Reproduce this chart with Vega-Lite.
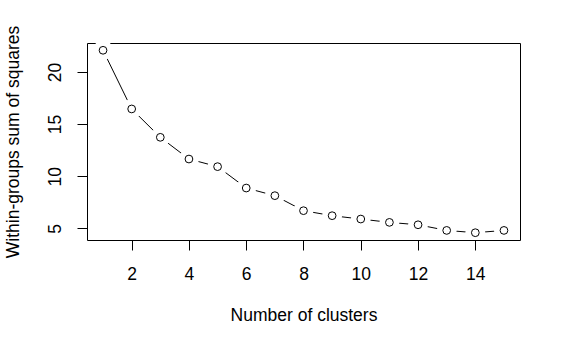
{
  "$schema": "https://vega.github.io/schema/vega-lite/v6.json",
  "autosize": {"type": "none"},
  "width": 433,
  "height": 197,
  "padding": {"left": 87, "top": 43, "right": 44, "bottom": 108},
  "background": "white",
  "config": {
    "view": {"stroke": "black", "strokeWidth": 1},
    "font": "Liberation Sans",
    "axis": {
      "domain": false,
      "grid": false,
      "zindex": 1,
      "tickColor": "black",
      "tickWidth": 1,
      "tickSize": 10,
      "labelFont": "Liberation Sans",
      "labelFontSize": 17.5,
      "labelColor": "black",
      "titleFont": "Liberation Sans",
      "titleFontSize": 17.5,
      "titleFontWeight": "normal",
      "titleColor": "black"
    }
  },
  "data": {
    "values": [
      {"k": 1, "wss": 22.07},
      {"k": 2, "wss": 16.45},
      {"k": 3, "wss": 13.73},
      {"k": 4, "wss": 11.65},
      {"k": 5, "wss": 10.92},
      {"k": 6, "wss": 8.87},
      {"k": 7, "wss": 8.14},
      {"k": 8, "wss": 6.70},
      {"k": 9, "wss": 6.22},
      {"k": 10, "wss": 5.90},
      {"k": 11, "wss": 5.58},
      {"k": 12, "wss": 5.35},
      {"k": 13, "wss": 4.81},
      {"k": 14, "wss": 4.59},
      {"k": 15, "wss": 4.81}
    ]
  },
  "encoding": {
    "x": {
      "field": "k", "type": "quantitative",
      "scale": {"domain": [0.44, 15.56], "nice": false, "zero": false},
      "axis": {"values": [2, 4, 6, 8, 10, 12, 14], "title": "Number of clusters", "labelPadding": 15, "titleY": 75, "titleBaseline": "middle"}
    },
    "y": {
      "field": "wss", "type": "quantitative",
      "scale": {"domain": [3.891, 22.769], "nice": false, "zero": false},
      "axis": {"values": [5, 10, 15, 20], "title": "Within-groups sum of squares", "labelAngle": -90, "labelAlign": "center", "labelBaseline": "bottom", "labelPadding": 13, "titleX": -74, "titleY": 98.5, "titleAngle": -90, "titleAlign": "center", "titleBaseline": "middle"}
    }
  },
  "layer": [
    {"mark": {"type": "line", "color": "black", "strokeWidth": 1}},
    {"mark": {"type": "point", "shape": "circle", "filled": true, "fill": "white", "stroke": null, "size": 400, "opacity": 1, "clip": true}},
    {"mark": {"type": "point", "shape": "circle", "filled": false, "fill": "white", "stroke": "black", "strokeWidth": 1, "size": 60, "opacity": 1}}
  ]
}
